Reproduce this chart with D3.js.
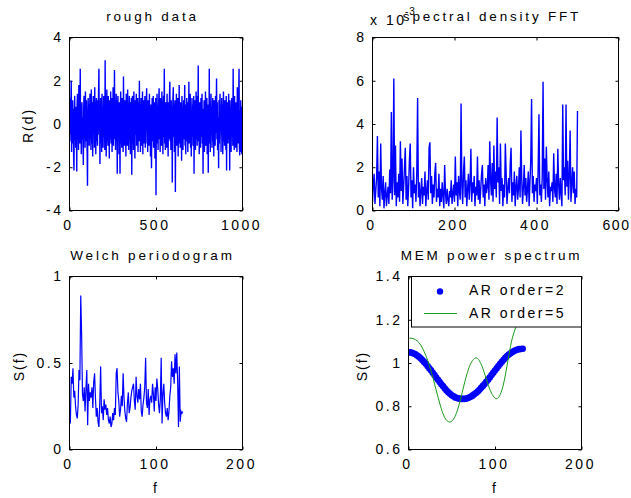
<!DOCTYPE html>
<html><head><meta charset="utf-8">
<script src="https://cdn.jsdelivr.net/npm/d3@7"></script>
<style>body{margin:0;background:#fff}svg{display:block;font-family:"Liberation Sans",Arial,sans-serif}</style>
</head><body><svg width="631" height="498"></svg>
<script>
// ---------- DATA ----------
const roughXStep = 2;
const roughValues = [
0.3,-0.8,1.2,-0.5,0.9,2.0,-1.3,0.4,-0.9,1.1,-0.2,0.7,-1.6,-2.15,0.5,1.3,-0.7,0.2,-1.1,0.8,
-0.4,-2.2,0.9,1.4,-0.6,0.1,-1.2,1.8,-0.3,0.6,-0.9,2.55,-0.1,0.8,-1.4,0.4,1.0,-0.7,0.3,-1.0,
-1.9,0.7,1.3,-0.5,0.2,-1.1,1.5,-0.8,0.6,1.1,-0.4,-1.3,-2.85,0.3,1.2,-0.6,0.9,-1.0,0.1,1.4,
-0.7,0.5,-1.2,1.6,0.2,-0.9,1.0,-1.5,0.4,1.3,-0.3,0.8,-1.1,1.7,-0.6,0.2,-1.4,0.9,1.2,-0.8,
0.4,-1.0,1.1,-0.5,1.5,2.55,-0.2,0.7,-1.85,0.3,1.2,-0.9,0.6,-1.3,1.4,-0.4,0.8,-1.1,0.2,1.3,
-0.6,1.0,-1.2,2.95,-0.3,0.9,-1.5,0.5,1.6,-0.8,0.2,-1.0,1.3,-0.4,0.7,-1.6,1.1,0.1,-0.7,1.5,
-0.9,0.6,1.2,-1.3,0.3,-0.5,1.7,-1.0,0.8,-0.2,2.5,-0.7,1.1,-1.2,0.4,1.4,-0.8,0.2,-2.3,0.9,
1.3,-0.6,0.5,-1.4,1.0,-0.3,-2.3,0.7,1.5,-0.9,0.2,-1.1,1.2,-0.5,0.9,-1.3,2.2,-0.2,0.6,-1.0,
1.1,-0.4,0.8,-1.5,1.4,-0.7,0.3,-1.0,1.6,-0.2,0.9,-1.2,0.5,1.3,-0.8,0.1,-1.4,1.0,-0.6,1.2,
-2.35,0.6,1.3,-0.9,0.4,-1.2,1.5,-0.3,0.8,-1.6,1.1,-0.5,0.2,1.4,-1.0,0.7,-0.4,1.2,-1.3,0.5,
1.0,-0.8,2.0,-0.4,0.9,-1.3,0.3,1.2,-1.0,0.6,-0.2,1.5,-1.4,0.8,-0.6,1.1,-0.9,0.4,1.3,-1.1,
0.5,-0.3,1.0,1.65,-0.9,0.2,-1.3,1.1,-0.5,0.8,-1.0,1.4,-0.2,0.6,-1.5,0.9,-0.7,-2.05,0.3,1.2,
-0.8,0.4,1.3,-1.1,0.7,-0.4,1.0,-1.6,0.2,1.2,-3.3,0.5,-0.9,1.4,-0.3,0.8,-1.2,0.6,1.1,1.65,
-0.7,0.3,-1.3,1.2,-0.5,0.9,-1.0,1.5,-0.2,0.6,-1.4,0.8,1.3,-0.6,2.55,-0.9,0.4,-1.2,1.0,-0.3,
0.7,-1.1,1.4,-0.4,0.2,-1.5,1.0,-0.7,0.5,1.3,1.95,-0.8,0.3,-1.2,1.1,-0.5,0.8,-2.7,0.4,1.2,
1.7,-0.6,0.9,-1.3,0.3,1.1,-3.15,0.6,-0.4,1.4,-1.0,0.2,-0.8,1.2,-1.5,0.7,-0.3,1.8,-0.9,0.5,
-1.1,1.0,-0.4,0.6,-1.7,1.3,-0.2,0.8,-1.2,0.4,1.1,-0.7,0.3,1.8,-1.0,0.5,-1.4,0.9,-0.3,1.2,
-0.8,0.4,-1.3,1.0,-0.5,1.95,-0.9,0.7,-0.2,1.4,-1.1,0.6,-1.5,0.3,1.2,-0.6,0.9,-1.0,0.2,1.3,
-2.3,0.8,-0.5,1.1,-1.2,0.4,1.5,-0.7,0.2,-1.0,1.3,-0.4,2.7,-0.8,0.6,-1.4,1.0,-0.3,0.7,-1.1,
1.2,-0.6,0.3,1.4,-0.9,0.7,-2.3,0.5,-0.2,1.1,-1.3,0.8,-0.5,1.5,-1.0,0.4,-0.7,1.2,-1.4,0.6,
0.9,-2.25,0.4,-0.6,2.55,-0.9,1.0,-1.3,0.3,1.4,-0.5,0.8,-1.1,0.2,1.2,-0.8,0.6,-1.5,1.1,-0.3,
0.7,-1.0,1.3,-0.4,0.5,2.1,-0.7,1.0,-1.2,0.3,-0.6,-2.05,1.1,-0.9,0.6,1.4,-0.3,0.8,-1.3,0.4,
1.2,-0.5,0.9,-1.4,0.2,1.5,-0.8,0.4,-1.0,1.1,-0.2,0.7,-1.2,1.3,-2.15,0.6,-0.4,1.0,-0.9,0.3,
1.4,-0.7,0.5,-2.15,1.1,-0.3,0.8,-1.3,0.2,1.2,-0.6,0.9,-1.0,2.55,-0.4,0.7,-1.2,1.3,-0.5,0.4,
-1.1,1.0,-0.6,0.8,-1.3,1.7,-0.2,0.5,-0.9,1.2,2.55,-1.0,-1.45,0.6,-0.8,1.1,-1.3,0.4,-1.4,0.8
];
const fftXStep = 2;
const fftValues = [ // units of 1e-3
0.4,1.2,1.7,0.3,0.9,1.5,3.45,0.6,1.8,0.2,3.1,1.0,0.5,1.6,0.1,0.8,1.3,0.2,0.7,1.1,
0.3,1.9,0.8,4.55,0.5,1.4,6.1,0.7,3.0,0.2,1.3,0.6,1.7,0.4,3.2,0.9,2.4,0.3,1.1,2.0,
2.9,0.5,1.6,0.2,1.0,2.3,3.1,0.6,1.4,0.1,2.0,0.8,1.2,0.4,1.7,5.2,0.6,1.3,0.2,0.9,
1.5,0.3,1.1,0.7,1.8,0.2,0.9,1.4,0.5,2.9,3.15,0.8,1.6,0.3,1.2,0.6,1.7,2.2,0.4,1.0,
0.6,1.7,0.2,1.0,0.4,1.3,0.7,0.1,2.1,0.8,0.3,1.0,0.5,0.2,0.9,0.6,1.4,0.3,0.8,1.2,
0.4,2.5,0.7,1.3,0.2,1.6,0.9,0.5,4.95,1.1,0.3,1.8,2.5,0.6,1.4,0.2,1.0,1.7,0.5,1.2,
2.85,0.4,1.3,0.8,1.6,0.2,1.1,0.7,2.5,0.5,1.4,0.3,1.0,1.7,2.1,0.6,1.2,0.2,1.5,0.8,
1.1,2.1,0.5,3.2,1.4,0.7,2.2,0.4,3.0,1.0,1.8,0.6,4.3,1.3,2.0,0.3,3.1,0.9,1.5,0.2,
1.2,0.6,3.1,1.7,0.3,1.0,1.5,0.8,2.2,2.9,0.4,1.3,0.7,1.8,0.2,1.1,1.6,0.5,1.0,2.0,
0.6,3.7,1.4,0.3,1.1,2.1,0.7,1.5,0.4,1.0,1.8,0.2,1.3,2.3,5.15,0.8,1.6,0.4,1.2,0.9,
1.5,0.3,1.9,4.45,0.7,1.2,0.4,1.6,5.95,1.0,2.4,0.5,2.95,1.4,0.6,1.8,0.2,1.1,0.9,1.3,
0.4,2.65,1.0,0.6,1.7,0.3,2.85,1.2,0.5,1.5,0.8,0.2,4.9,1.4,2.0,0.7,4.9,1.1,2.3,0.5,
1.6,3.7,0.4,1.2,2.0,0.8,1.8,0.3,1.0,0.6,4.6
];
const welchStartF = 1;
const welchValues = [
0.15,0.42,0.38,0.47,0.30,0.34,0.25,0.20,0.18,0.26,0.46,0.40,0.89,0.67,0.32,0.28,0.36,0.22,0.35,0.46,
0.14,0.38,0.28,0.33,0.30,0.36,0.24,0.39,0.44,0.30,0.19,0.24,0.16,0.13,0.27,0.48,0.21,0.25,0.17,0.29,
0.23,0.26,0.20,0.24,0.17,0.15,0.19,0.13,0.15,0.21,0.17,0.24,0.20,0.44,0.47,0.33,0.28,0.19,0.23,0.31,
0.25,0.44,0.30,0.22,0.18,0.16,0.27,0.33,0.21,0.24,0.30,0.34,0.36,0.38,0.28,0.23,0.42,0.31,0.27,0.35,
0.29,0.38,0.22,0.19,0.26,0.30,0.36,0.53,0.27,0.24,0.35,0.20,0.29,0.31,0.27,0.38,0.32,0.22,0.36,0.28,
0.41,0.35,0.26,0.21,0.29,0.53,0.15,0.32,0.38,0.27,0.21,0.19,0.24,0.17,0.22,0.31,0.36,0.51,0.42,0.47,
0.38,0.55,0.44,0.56,0.40,0.13,0.48,0.16,0.22,0.21,0.22
];
const memAR2F = [0,2,4,6,8,10,12,14,16,18,20,22,24,26,28,30,32,34,36,38,40,42,44,46,48,50,52,54,56,58,60,62,64,66,68,70,72,74,76,78,80,82,84,86,88,90,92,94,96,98,100,102,104,106,108,110,112,114,116,118,120,122,124,126,128,130,132];
const memAR2Values = [1.050,1.049,1.047,1.044,1.040,1.035,1.029,1.022,1.014,1.005,0.996,0.986,0.976,0.966,0.955,0.944,0.933,0.922,0.912,0.902,0.892,0.882,0.873,0.865,0.858,0.851,0.846,0.841,0.838,0.836,0.834,0.834,0.834,0.835,0.837,0.840,0.844,0.849,0.855,0.861,0.868,0.876,0.885,0.894,0.903,0.913,0.923,0.933,0.944,0.955,0.965,0.976,0.986,0.996,1.006,1.015,1.024,1.032,1.039,1.045,1.051,1.055,1.059,1.062,1.064,1.065,1.066];
const memAR5F = [0,4,8,12,16,20,24,28,32,36,40,44,48,52,56,60,64,68,72,76,78,80,84,88,92,96,100,102,104,108,112,116,120,124,128,132];
const memAR5Values = [1.115,1.114,1.108,1.095,1.070,1.035,0.990,0.935,0.875,0.815,0.765,0.735,0.727,0.740,0.775,0.830,0.895,0.955,0.998,1.020,1.024,1.020,0.995,0.950,0.900,0.860,0.838,0.835,0.840,0.875,0.945,1.035,1.115,1.165,1.22,1.27];
const legendLabels = ["AR order=2","AR order=5"];
const titles = ["rough data","spectral density FFT","Welch periodogram","MEM power spectrum"];
const yLabels = ["R(d)", null, "S(f)", "S(f)"];
const xLabels = [null, null, "f", "f"];
const roughXTicks=[0,500,1000], roughYTicks=[-4,-2,0,2,4];
const fftXTicks=[0,200,400,600], fftYTicks=[0,2,4,6,8];
const welchXTicks=[0,100,200], welchYTicks=[0,0.5,1];
const memXTicks=[0,100,200], memYTicks=[0.6,0.8,1,1.2,1.4];

// ---------- DRAW ----------
const svg = d3.select("svg");
const BLUE = "#0000ff", GREEN = "#1a9a1a";
const TICK_LS = "2.5px";

function panel(i, box, xDom, yDom, xTicks, yTicks, ylabPos) {
  const x = d3.scaleLinear().domain(xDom).range([box.l, box.r]);
  const y = d3.scaleLinear().domain(yDom).range([box.b, box.t]);
  const g = svg.append("g");
  const fmt = d => String(d);
  const st = sel => sel.call(s => s.select(".domain").remove())
      .call(s => s.selectAll("line").attr("stroke", "#000"))
      .call(s => s.selectAll("text").attr("fill","#000").attr("font-size", 14)
        .attr("letter-spacing", TICK_LS).attr("font-family", '"Liberation Sans",Arial,sans-serif'));
  g.append("g").attr("transform", `translate(0,${box.b})`)
    .call(d3.axisBottom(x).tickValues(xTicks).tickFormat(fmt).tickSize(-3).tickPadding(9.4)).call(st)
    .call(s => s.selectAll("text").attr("dx", -1.5))
    .call(s => s.selectAll("text").filter(d => x(d) > 610).attr("letter-spacing", "1.6px").attr("dx", -2.5));
  g.append("g").attr("transform", `translate(0,${box.t})`)
    .call(d3.axisTop(x).tickValues(xTicks).tickFormat("").tickSize(-3)).call(st);
  g.append("g").attr("transform", `translate(${box.l},0)`)
    .call(d3.axisLeft(y).tickValues(yTicks).tickFormat(fmt).tickSize(-3).tickPadding(6)).call(st);
  g.append("g").attr("transform", `translate(${box.r},0)`)
    .call(d3.axisRight(y).tickValues(yTicks).tickFormat("").tickSize(-3)).call(st);
  const clipId = "clip" + i;
  svg.append("clipPath").attr("id", clipId).append("rect")
    .attr("x", box.l).attr("y", box.t).attr("width", box.r - box.l).attr("height", box.b - box.t);
  const plot = svg.append("g").attr("clip-path", `url(#${clipId})`);
  const cx = (box.l + box.r) / 2;
  svg.append("text").attr("x", cx - 3.5).attr("y", box.t - 17).attr("text-anchor", "middle")
    .attr("font-size", 13.5).attr("letter-spacing", "2.8px").text(titles[i]);
  if (yLabels[i]) svg.append("text").attr("transform", `translate(${ylabPos[0]},${ylabPos[1]}) rotate(-90)`)
    .attr("text-anchor", "middle").attr("font-size", 14).attr("letter-spacing", "2px").text(yLabels[i]);
  if (xLabels[i]) svg.append("text").attr("x", cx - 1).attr("y", 493).attr("text-anchor", "middle")
    .attr("font-size", 14).text(xLabels[i]);
  return {x, y, plot, box};
}
function frame(p) {
  svg.append("rect").attr("x", p.box.l).attr("y", p.box.t).attr("width", p.box.r - p.box.l)
    .attr("height", p.box.b - p.box.t).attr("fill", "none").attr("stroke", "#000").attr("stroke-width", 1);
}

// Panel 1: rough data
const p1 = panel(0, {l:69.5, r:242.5, t:37.5, b:210.5}, [0,1000], [-4,4], roughXTicks, roughYTicks, [33,125.5]);
p1.plot.append("path").datum(roughValues)
  .attr("d", d3.line().x((d,i) => p1.x(i * roughXStep)).y(d => p1.y(d)))
  .attr("fill","none").attr("stroke", BLUE).attr("stroke-width", 1.4);
frame(p1);

// Panel 2: FFT
const p2 = panel(1, {l:372.5, r:618.5, t:37.5, b:210.5}, [0,600], [0,8], fftXTicks, fftYTicks, [0,0]);
p2.plot.append("path").datum(fftValues)
  .attr("d", d3.line().x((d,i) => p2.x(i * fftXStep)).y(d => p2.y(d)))
  .attr("fill","none").attr("stroke", BLUE).attr("stroke-width", 1.4);
frame(p2);
svg.append("text").attr("x", 370).attr("y", 25).attr("font-size", 14).attr("letter-spacing","2.5px").text("x 10");
svg.append("text").attr("x", 405).attr("y", 15).attr("font-size", 10).attr("letter-spacing","1px").text("-3");

// Panel 3: Welch
const p3 = panel(2, {l:69.5, r:242.5, t:276.5, b:449.5}, [0,200], [0,1], welchXTicks, welchYTicks, [24,366]);
p3.plot.append("path").datum(welchValues)
  .attr("d", d3.line().x((d,i) => p3.x(welchStartF + i)).y(d => p3.y(d)))
  .attr("fill","none").attr("stroke", BLUE).attr("stroke-width", 1.2);
frame(p3);

// Panel 4: MEM
const p4 = panel(3, {l:408.5, r:581.5, t:276.5, b:449.5}, [0,200], [0.6,1.4], memXTicks, memYTicks, [366.5,366]);
p4.plot.selectAll("circle").data(memAR2Values).join("circle")
  .attr("cx", (d,i) => p4.x(memAR2F[i])).attr("cy", d => p4.y(d)).attr("r", 3.3).attr("fill", BLUE);
p4.plot.append("path").datum(memAR5Values)
  .attr("d", d3.line().x((d,i) => p4.x(memAR5F[i])).y(d => p4.y(d)).curve(d3.curveCatmullRom))
  .attr("fill","none").attr("stroke", GREEN).attr("stroke-width", 1);
frame(p4);
// legend
const lg = svg.append("g");
lg.append("rect").attr("x", 411.5).attr("y", 276.5).attr("width", 170).attr("height", 50.5)
  .attr("fill", "#fff").attr("stroke", "#000");
lg.append("circle").attr("cx", 440).attr("cy", 291.5).attr("r", 3.2).attr("fill", BLUE);
lg.append("line").attr("x1", 424).attr("x2", 457).attr("y1", 313.5).attr("y2", 313.5).attr("stroke", GREEN);
lg.selectAll("text.l").data(legendLabels).join("text").attr("class","l")
  .attr("x", 469).attr("y", (d,i) => i === 0 ? 295 : 317.5).attr("font-size", 14).attr("letter-spacing", "2.5px").text(d => d);
</script></body></html>
